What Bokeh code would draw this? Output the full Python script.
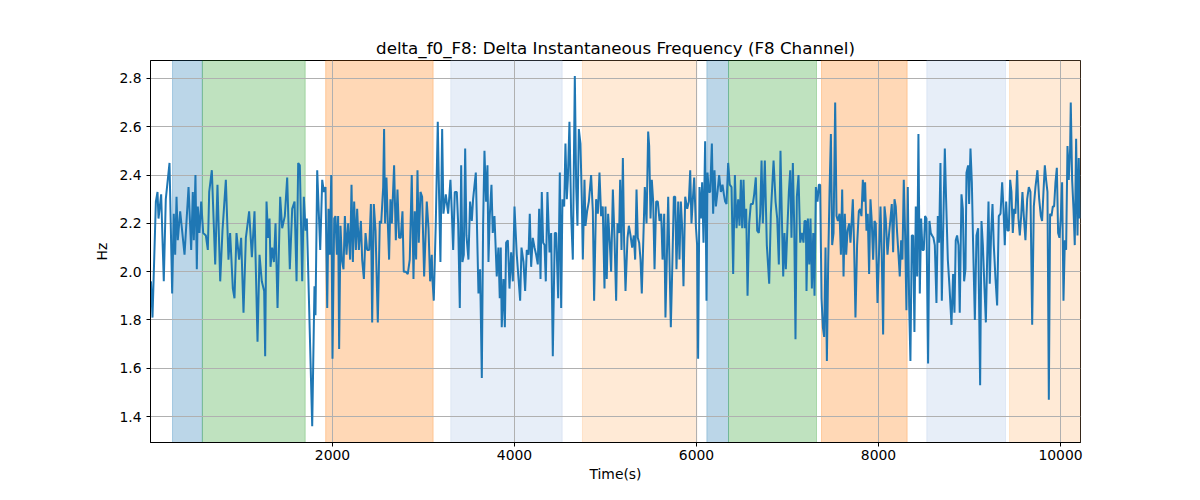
from bokeh.plotting import figure
from bokeh.models import BoxAnnotation, FixedTicker, NumeralTickFormatter, Range1d, ColumnDataSource
from bokeh.embed import file_html
from bokeh.resources import INLINE

time_s = [
    5, 22, 59, 77, 88, 117, 146, 168, 209, 238, 256, 271, 286, 300, 326, 374, 418, 447, 465, 476,
    494, 509, 520, 538, 557, 579, 608, 630, 645, 674, 711, 736, 766, 791, 828, 857, 875, 905, 923, 945,
    974, 996, 1022, 1048, 1084, 1114, 1143, 1176, 1198, 1223, 1249, 1260,
    1275, 1293, 1308, 1319, 1337, 1356, 1374, 1396, 1425, 1447, 1476, 1502, 1531, 1557, 1583, 1605, 1623, 1641,
    1667, 1685, 1704, 1718, 1777, 1802, 1813, 1832, 1865, 1887, 1905, 1923, 1942, 1956, 1971, 1986, 2000, 2019,
    2033, 2048, 2062, 2073, 2088, 2103, 2121, 2136, 2154, 2172, 2194, 2209, 2224, 2238, 2257, 2271, 2290, 2312,
    2326, 2345, 2363, 2381, 2403, 2422, 2436, 2454, 2473, 2498, 2520, 2535, 2557,
    2567, 2578, 2593, 2608, 2622, 2637, 2652, 2677, 2696, 2714, 2732, 2750, 2769, 2783, 2805, 2827, 2849, 2871,
    2890, 2904, 2919, 2934, 2948, 2967, 2985, 3007, 3036, 3055, 3073, 3091, 3098, 3113, 3135, 3157, 3172, 3186,
    3205, 3219, 3245, 3271, 3296, 3311, 3326, 3344, 3366, 3381, 3399, 3414, 3428, 3443, 3458, 3472, 3494, 3512,
    3531, 3545, 3575, 3604, 3622, 3641, 3655, 3670, 3688, 3703, 3714, 3728, 3747, 3761, 3780, 3805, 3823, 3838,
    3849, 3860, 3879, 3894, 3908, 3927, 3945, 3963, 3982, 4000, 4025, 4062, 4077, 4099, 4117, 4135, 4154, 4168,
    4183, 4201, 4220, 4238, 4256, 4271, 4286, 4300, 4315, 4330, 4344, 4362, 4385, 4403, 4421, 4443, 4458, 4480,
    4498, 4513, 4527, 4546, 4560, 4575, 4586, 4604, 4623, 4641, 4663, 4678, 4692, 4707, 4725, 4740, 4751, 4769,
    4780, 4798, 4817, 4842, 4861, 4875, 4897, 4916, 4934, 4952, 4970, 4989, 5000, 5014, 5029, 5047, 5062, 5081,
    5099, 5117,
    5132, 5150, 5161, 5176, 5191, 5205, 5220, 5242, 5257, 5275, 5293, 5311, 5326, 5341, 5355, 5370, 5385, 5399,
    5414, 5432, 5451, 5469, 5480, 5495, 5509, 5524, 5539, 5557, 5575, 5594, 5612, 5627, 5645, 5659, 5674, 5689,
    5703, 5718, 5736, 5751, 5766, 5780, 5799, 5813, 5828, 5843, 5857, 5876, 5898, 5916, 5931, 5945, 5960, 5975,
    5993, 6007, 6018, 6033, 6048, 6062, 6077, 6095, 6110, 6121, 6136, 6150, 6169, 6183, 6198, 6213, 6231, 6249,
    6268, 6286, 6301, 6315, 6330, 6348, 6366, 6385, 6403,
    6422, 6440, 6458, 6473, 6488, 6502, 6517, 6531, 6546, 6561, 6579, 6597, 6619, 6634, 6652, 6667, 6685, 6700,
    6715, 6729, 6751, 6773, 6799, 6817, 6847, 6869, 6887, 6905, 6923, 6938, 6953, 6967, 6982, 7000, 7015, 7030,
    7044, 7059, 7074, 7088, 7103, 7121, 7140, 7158, 7176, 7187, 7202, 7209, 7224, 7239, 7253, 7268, 7283, 7297,
    7312, 7330, 7345, 7359, 7374, 7389, 7403, 7418, 7433, 7447, 7462, 7477, 7491, 7506, 7524, 7539, 7554, 7572,
    7587, 7601, 7616, 7630, 7645, 7660, 7678,
    7692, 7703, 7718, 7732, 7747, 7765, 7784, 7798, 7813, 7828, 7842, 7853, 7868, 7882, 7897, 7912, 7926, 7941,
    7956, 7970, 7989, 8007, 8022, 8036, 8051, 8066, 8080, 8099, 8117, 8132, 8146, 8161, 8176, 8190, 8205, 8220,
    8234, 8249, 8263, 8278, 8293, 8307, 8322, 8337, 8351, 8366, 8381, 8395, 8410, 8425, 8439, 8454, 8469, 8483,
    8498, 8512, 8527, 8545, 8560, 8575, 8589, 8604, 8619, 8637, 8652, 8666, 8681, 8696, 8714, 8729, 8743, 8762,
    8780, 8802, 8820, 8835, 8849, 8864, 8879, 8893, 8912, 8927, 8941, 8956,
    8967, 8985, 8996, 9011, 9026, 9040, 9059, 9077, 9095, 9117, 9132, 9147, 9165, 9180, 9194, 9209, 9223, 9238,
    9253, 9267, 9286, 9304, 9322, 9341, 9359, 9374, 9388, 9403, 9418, 9432, 9447, 9461, 9476, 9491, 9505, 9524,
    9538, 9553, 9568, 9582, 9597, 9615, 9634, 9652, 9670, 9689, 9707, 9725, 9747, 9766, 9784, 9798, 9813, 9828,
    9842, 9857, 9872, 9886, 9901, 9916, 9930, 9945, 9960, 9974, 9989, 10004, 10018, 10033, 10048, 10062, 10077, 10091,
    10106, 10113, 10128, 10143, 10157, 10172, 10187, 10201, 10212,
]

delta_f0 = [
    1.96, 1.81, 2.29, 2.33, 2.22, 2.32, 1.96, 2.30, 2.45, 1.91, 2.24, 2.07, 2.31, 2.13, 2.25, 2.07, 2.35, 2.09, 2.33, 2.13,
    2.40, 2.01, 2.27, 2.16, 2.29, 2.16, 2.15, 2.09, 2.33, 2.42, 2.03, 2.36, 1.96, 2.17, 2.38, 2.05, 2.16, 1.93, 1.89, 2.16,
    2.05, 2.14, 1.83, 2.14, 2.25, 2.06, 2.25, 1.71, 2.07, 1.96, 1.92, 1.65,
    2.29, 2.14, 2.22, 2.02, 2.10, 2.04, 2.20, 1.85, 2.31, 2.18, 2.23, 2.39, 2.01, 2.26, 2.29, 1.96, 2.45, 2.44,
    1.96, 2.31, 2.17, 2.22, 1.36, 1.94, 1.82, 2.42, 2.09, 2.38, 2.33, 2.35, 1.85, 2.26, 2.07, 2.40, 1.64, 2.22,
    2.23, 2.07, 2.23, 1.68, 2.19, 2.05, 2.01, 2.23, 2.07, 2.20, 2.05, 2.36, 2.04, 2.29, 2.09, 2.26, 2.09, 2.21,
    2.05, 1.97, 2.16, 2.09, 2.09, 2.28, 1.79, 2.28, 2.17, 1.79, 2.21, 2.20, 2.35,
    2.59, 2.20, 2.39, 2.20, 2.05, 2.30, 2.20, 2.44, 2.13, 2.34, 2.14, 2.14, 2.25, 2.00, 2.00, 1.99, 2.05, 2.40,
    1.97, 2.25, 2.05, 2.42, 2.12, 2.33, 2.31, 1.98, 2.29, 2.18, 1.96, 2.07, 1.97, 1.88, 2.20, 2.62, 2.30, 2.04,
    2.59, 2.24, 2.32, 2.24, 2.38, 2.25, 2.09, 2.33, 2.33, 2.20, 1.85, 2.44, 2.04, 2.07, 2.51, 2.15, 2.05, 2.29,
    2.21, 2.30, 2.41, 1.91, 2.01, 1.56, 2.19, 2.50, 2.29, 2.44, 2.04, 2.23, 2.36, 2.16, 2.23, 1.98, 2.10, 1.89,
    2.10, 1.77, 1.97, 1.77, 2.12, 2.13, 1.93, 2.08, 1.96, 2.27, 2.07, 1.88, 2.10, 2.04, 1.92, 2.09, 2.07, 2.24,
    2.02, 2.14, 2.10, 2.07, 2.03, 2.26, 1.97, 2.33, 2.12, 2.11, 1.96, 2.33, 2.08, 2.16, 1.65, 2.16, 2.16, 1.89,
    2.41, 1.85, 2.30, 2.27, 2.53, 2.30, 2.38, 2.62, 2.23, 2.05, 2.81, 2.35, 2.19, 2.59, 2.53, 2.29, 2.05, 2.38,
    2.19, 2.25, 2.29, 2.40, 2.25, 1.88, 2.30, 2.24, 2.41, 2.23, 2.27, 1.93, 2.27, 1.97, 2.24, 2.12, 2.00, 2.34,
    2.14, 1.88,
    2.20, 2.16, 2.38, 2.09, 2.47, 2.12, 1.92, 2.14, 2.19, 2.15, 2.10, 2.15, 2.05, 2.34, 2.14, 2.12, 2.05, 1.91,
    2.11, 2.35, 2.20, 2.58, 2.52, 2.22, 2.38, 2.29, 2.01, 2.29, 2.29, 2.21, 2.24, 2.05, 2.24, 1.81, 2.05, 2.31,
    2.05, 1.77, 2.05, 2.31, 2.31, 2.01, 2.29, 2.05, 2.29, 2.18, 1.94, 2.31, 2.26, 2.29, 2.42, 2.20, 2.30, 2.39,
    2.19, 2.11, 1.64, 2.35, 2.22, 2.37, 2.12, 2.54, 1.88, 2.41, 2.33, 2.33, 2.53, 2.24, 2.42, 2.27, 2.33, 2.40,
    2.33, 2.36, 2.32, 2.29, 2.28, 2.45, 2.36, 2.35, 1.99,
    2.40, 2.18, 2.30, 2.19, 2.38, 2.18, 2.38, 2.18, 2.26, 1.90, 2.20, 2.28, 2.28, 2.32, 2.39, 2.17, 2.16, 2.24,
    2.46, 2.20, 2.46, 2.11, 1.95, 2.24, 2.46, 2.29, 2.22, 2.03, 2.50, 2.23, 1.98, 2.16, 2.01, 2.19, 2.33, 2.42,
    2.14, 2.45, 2.19, 1.72, 2.31, 2.40, 2.12, 2.16, 2.12, 2.21, 2.21, 1.92, 2.22, 2.03, 2.22, 1.93, 2.16, 1.90,
    2.35, 2.29, 2.36, 2.36, 1.89, 1.77, 1.73, 2.10, 1.63, 2.03, 2.33, 2.57, 2.11, 2.16, 2.70, 2.23, 2.21, 2.24,
    2.07, 2.34, 1.98, 2.24, 2.07, 2.17, 2.20,
    2.12, 2.19, 2.30, 2.11, 1.81, 2.11, 2.25, 2.26, 2.23, 2.38, 2.29, 2.37, 2.17, 2.24, 1.99, 2.30, 2.21, 2.05,
    2.21, 2.20, 1.87, 2.09, 2.27, 2.07, 1.74, 2.27, 2.22, 2.07, 2.16, 2.22, 2.28, 2.08, 2.30, 2.27, 2.16, 2.07,
    1.98, 2.13, 2.05, 2.38, 2.15, 1.84, 2.35, 1.86, 1.63, 2.15, 2.15, 1.75, 2.27, 1.98, 2.57, 1.91, 2.22, 2.09,
    2.09, 2.23, 2.22, 1.62, 2.21, 2.16, 2.15, 2.14, 2.11, 1.87, 2.23, 2.12, 2.45, 1.88, 2.23, 2.51, 2.30, 2.05,
    1.94, 1.78, 1.99, 1.83, 2.13, 2.15, 2.11, 1.83, 2.32, 2.26, 1.96, 2.01,
    2.41, 2.44, 2.28, 2.51, 2.37, 2.11, 1.80, 2.15, 2.18, 1.53, 2.21, 2.11, 1.93, 1.79, 2.05, 2.29, 1.95, 2.16,
    2.28, 2.11, 1.97, 1.86, 2.23, 2.24, 2.37, 2.26, 2.11, 2.29, 2.17, 2.17, 2.38, 2.33, 2.16, 2.26, 2.24, 2.42,
    2.22, 2.15, 2.23, 2.33, 2.23, 2.13, 2.30, 2.35, 2.33, 1.78, 2.27, 2.35, 2.42, 2.30, 2.23, 2.21, 2.33, 2.44,
    2.38, 2.33, 1.47, 2.24, 2.23, 2.27, 2.27, 2.37, 2.43, 2.16, 2.14, 2.23, 2.37, 1.88, 2.13, 2.09, 2.52, 2.38,
    2.51, 2.70, 2.38, 2.26, 2.11, 2.55, 2.15, 2.47, 2.22,
]

band_start = [242, 570, 1925, 3300, 4747, 6114, 6352, 7374, 8531, 9440]
band_end = [570, 1700, 3106, 4524, 6004, 6352, 7319, 8315, 9396, 10220]
band_color = ["#1f77b4", "#2ca02c", "#ff7f0e", "#aec7e8", "#ffbb78",
              "#1f77b4", "#2ca02c", "#ff7f0e", "#aec7e8", "#ffbb78"]

x_ticks = [2000, 4000, 6000, 8000, 10000]
y_ticks = [1.4, 1.6, 1.8, 2.0, 2.2, 2.4, 2.6, 2.8]

FONT = "DejaVu Sans"

p = figure(width=1184, height=484, output_backend="svg", toolbar_location=None,
           x_range=Range1d(0, 10220), y_range=Range1d(1.293, 2.874),
           title="delta_f0_F8: Delta Instantaneous Frequency (F8 Channel)",
           min_border_left=150, min_border_right=104, min_border_top=60, min_border_bottom=39)

for s, e, c in zip(band_start, band_end, band_color):
    p.add_layout(BoxAnnotation(left=s, right=e, fill_color=c, fill_alpha=0.3,
                               line_color=c, line_alpha=0.3, line_width=1, level="image"))

src = ColumnDataSource(dict(t=time_s, v=delta_f0))
p.line("t", "v", source=src, line_color="#1f77b4", line_width=2)

p.title.text_font = FONT
p.title.text_font_size = "16.7px"
p.title.text_font_style = "normal"
p.title.align = "center"
p.title.text_color = "black"
p.title.standoff = 6

p.xaxis.ticker = FixedTicker(ticks=x_ticks)
p.yaxis.ticker = FixedTicker(ticks=y_ticks)
p.yaxis.formatter = NumeralTickFormatter(format="0.0")
p.xaxis.axis_label = "Time(s)"
p.yaxis.axis_label = "Hz"

for ax in (p.xaxis, p.yaxis):
    ax.axis_label_text_font = FONT
    ax.axis_label_text_font_size = "13.9px"
    ax.axis_label_text_font_style = "normal"
    ax.axis_label_text_color = "black"
    ax.major_label_text_font = FONT
    ax.major_label_text_font_size = "13.9px"
    ax.major_label_text_color = "black"
    ax.axis_line_color = "black"
    ax.major_tick_line_color = "black"
    ax.major_tick_out = 4
    ax.major_tick_in = 0
    ax.minor_tick_line_color = None
    ax.major_label_standoff = 3
    ax.axis_label_standoff = 3

p.yaxis.major_label_standoff = 5
p.yaxis.axis_label_standoff = 6

p.grid.grid_line_color = "#b0b0b0"
p.grid.grid_line_width = 1
p.outline_line_color = "black"
p.outline_line_alpha = 1
p.outline_line_width = 1
p.background_fill_color = "white"
p.border_fill_color = "white"

open("out.html", "w").write(file_html(p, INLINE))
